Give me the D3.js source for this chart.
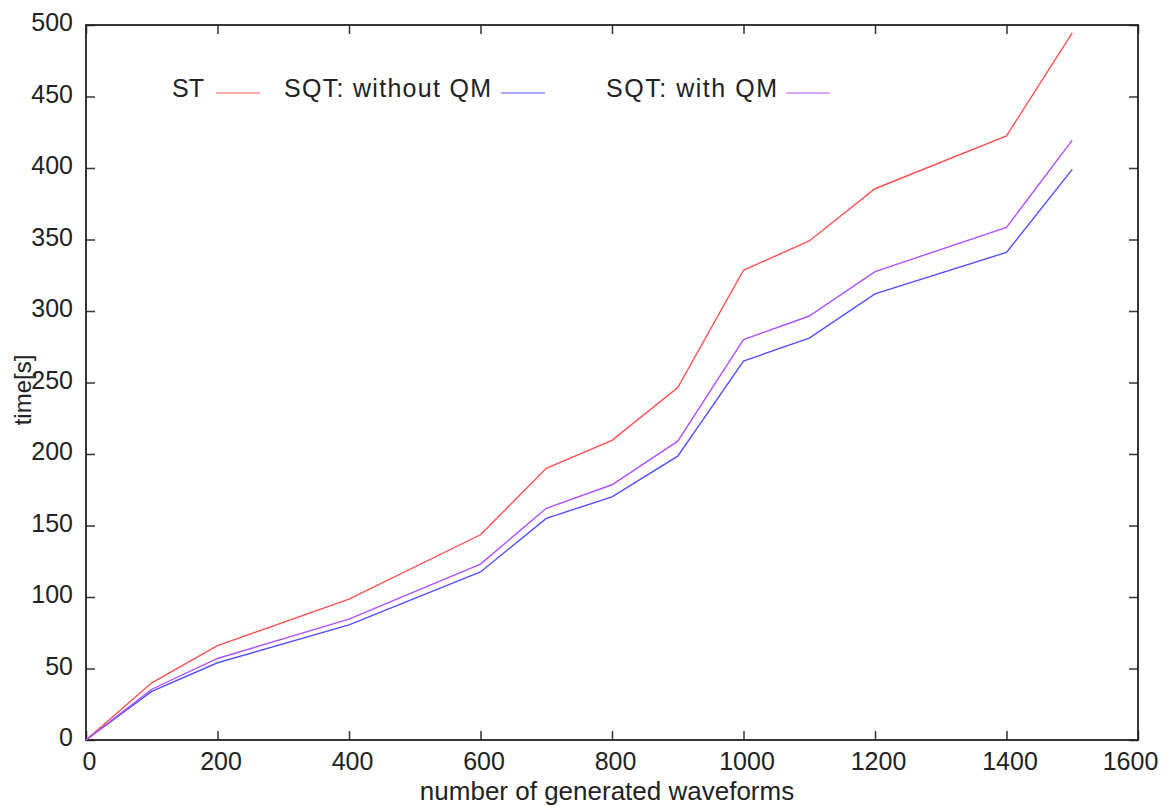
<!DOCTYPE html>
<html>
<head>
<meta charset="utf-8">
<script src="https://cdnjs.cloudflare.com/ajax/libs/d3/7.8.5/d3.min.js"></script>
<style>
    body { margin: 0; background: #fff; }
    text { font-family: "Liberation Sans", Arial, Helvetica, sans-serif; fill: #222; }
</style>
</head>
<body>
<div id="chart"></div>
<script>
var waveforms = [0, 100, 200, 400, 600, 700, 800, 900, 1000, 1100, 1200, 1400, 1500];
var stTime = [0, 40, 66, 98.5, 143.5, 190, 209.5, 246.5, 328.5, 349, 385.5, 422.5, 494.5];
var sqtNoQm = [0, 34, 54, 80.5, 117.5, 155, 170, 198.5, 265, 281, 312, 341, 399];
var sqtQm = [0, 35.5, 57, 84.5, 123, 162, 178.5, 209, 280, 296.5, 327.5, 358.5, 419.5];
var xTicks = [0, 200, 400, 600, 800, 1000, 1200, 1400, 1600];
var yTicks = [0, 50, 100, 150, 200, 250, 300, 350, 400, 450, 500];

var series = [
    { name: "ST", values: stTime, color: "#ff5050", lx: 172, tw: null, lineX: 216 },
    { name: "SQT: without QM", values: sqtNoQm, color: "#5050ff", lx: 284, tw: 207, lineX: 501 },
    { name: "SQT: with QM", values: sqtQm, color: "#b050ff", lx: 606, tw: 171, lineX: 786 }
];

var W = 1169, H = 807;
// NB: "top" is a reserved window property, so use p* names
var pLeft = 86, pRight = 1138, pTop = 25, pBottom = 740;
var tickLen = 9;

var svg = d3.select("#chart").append("svg")
    .attr("width", W)
    .attr("height", H);

var x = d3.scaleLinear().domain([0, 1600]).range([pLeft, pRight]);
var y = d3.scaleLinear().domain([0, 500]).range([pBottom, pTop]);

// axes, ticks pointing inwards like the original
var xAxis = svg.append("g").attr("transform", "translate(0," + pBottom + ")")
    .call(d3.axisBottom(x).tickValues(xTicks).tickSize(-tickLen).tickPadding(tickLen + 6).tickFormat(d3.format("d")));
var xTop = svg.append("g").attr("transform", "translate(0," + pTop + ")")
    .call(d3.axisTop(x).tickValues(xTicks).tickSize(-tickLen).tickFormat(""));
var yAxis = svg.append("g").attr("transform", "translate(" + pLeft + ",0)")
    .call(d3.axisLeft(y).tickValues(yTicks).tickSize(-tickLen).tickPadding(tickLen + 4).tickFormat(d3.format("d")));
var yRight = svg.append("g").attr("transform", "translate(" + pRight + ",0)")
    .call(d3.axisRight(y).tickValues(yTicks).tickSize(-tickLen).tickFormat(""));

[xAxis, xTop, yAxis, yRight].forEach(function(a) {
    a.select(".domain").remove();
    a.selectAll(".tick line").attr("stroke", "#333").attr("stroke-width", 1.5);
    a.selectAll(".tick text").style("font-size", "25px").attr("fill", "#222")
        .style("font-family", "'Liberation Sans', Arial, sans-serif");
});
yAxis.selectAll(".tick text").attr("dy", "0.22em");
xAxis.selectAll(".tick text").attr("dy", "0.6em").attr("x", function(d) { return d == 1600 ? -8 : 3; });

// frame
svg.append("rect")
    .attr("x", pLeft).attr("y", pTop)
    .attr("width", pRight - pLeft).attr("height", pBottom - pTop)
    .attr("fill", "none").attr("stroke", "#222").attr("stroke-width", 1.8);

var line = d3.line()
    .x(function(d, i) { return x(waveforms[i]); })
    .y(function(d) { return y(d); });

svg.selectAll("path.series").data(series).enter().append("path")
    .attr("class", "series")
    .attr("d", function(d) { return line(d.values); })
    .attr("fill", "none")
    .attr("stroke", function(d) { return d.color; })
    .attr("stroke-width", 1.4);

// legend inside the plot
var leg = svg.selectAll("g.leg").data(series).enter().append("g").attr("class", "leg");
leg.append("text")
    .attr("x", function(d) { return d.lx; })
    .attr("y", 97)
    .attr("textLength", function(d) { return d.tw; })
    .attr("lengthAdjust", "spacing")
    .style("font-size", "25px")
    .text(function(d) { return d.name; });
leg.append("line")
    .attr("x1", function(d) { return d.lineX; })
    .attr("x2", function(d) { return d.lineX + 44; })
    .attr("y1", 93).attr("y2", 93)
    .attr("stroke", function(d) { return d.color; })
    .attr("stroke-width", 1.2);

svg.append("text")
    .attr("x", 607)
    .attr("y", 800)
    .attr("text-anchor", "middle")
    .style("font-size", "26px")
    .text("number of generated waveforms");

svg.append("text")
    .attr("transform", "translate(31," + 390 + ") rotate(-90)")
    .attr("text-anchor", "middle")
    .style("font-size", "24px")
    .text("time[s]");
</script>
</body>
</html>
